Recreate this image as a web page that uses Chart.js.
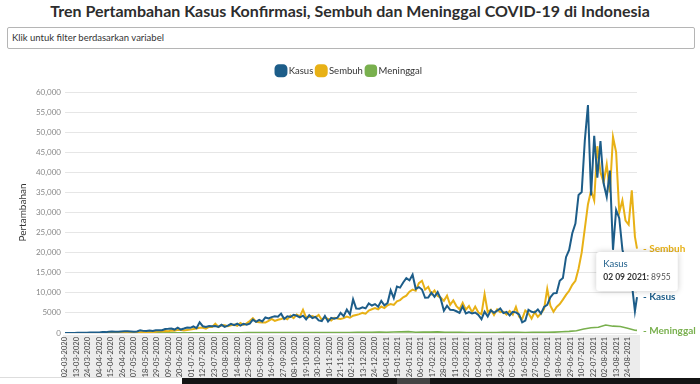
<!DOCTYPE html>
<html>
<head>
<meta charset="utf-8">
<script src="https://cdn.jsdelivr.net/npm/chart.js@4.4.0/dist/chart.umd.min.js"></script>
<style>
  body { margin:0; width:700px; height:384px; overflow:hidden; background:#fff; font-family:Lato, sans-serif; position:relative; }
  h1 { position:absolute; top:1px; left:0; width:700px; margin:0; text-align:center; font-size:16px; font-weight:bold; color:#2d2d2d; line-height:20px; }
  .filter { position:absolute; left:7px; top:27px; width:688px; height:22px; border:1px solid #b5b5b5; border-radius:2px; box-sizing:border-box; font-size:9.5px; color:#333; line-height:20px; padding-left:4px; }
  #wrap { position:absolute; left:0; top:61px; width:700px; height:323px; }
  .line { position:absolute; left:0; top:377px; width:182px; height:1px; background:#ddd; }
  .strip { position:absolute; left:182px; top:378px; width:518px; height:6px; background:#141414; }
  .patch { position:absolute; left:397px; top:378px; width:33px; height:6px; background:#444; }
</style>
</head>
<body>
<h1>Tren Pertambahan Kasus Konfirmasi, Sembuh dan Meninggal COVID-19 di Indonesia</h1>
<div class="filter">Klik untuk filter berdasarkan variabel</div>
<div id="wrap"><canvas id="covid"></canvas></div>
<div class="line"></div><div class="strip"></div><div class="patch"></div>
<script>
// Categories: one label per reported day (one day is missing in the source data)
var startDate = new Date(2020, 2, 2);
var endDate = new Date(2021, 8, 2);
var missingDate = '17-07-2021';
var tickEvery = 11;

// Series values (every 3rd day for Kasus/Sembuh, every 7th for Meninggal)
var kasusStep = 3;
var kasus = [
  2,2,2,15,35,38,60,64,103,130,
  149,106,247,219,316,380,327,283,396,415,
  433,395,338,387,689,529,486,634,479,687,
  700,684,993,1043,1111,857,1331,862,1113,1385,
  1293,1624,1209,2657,1681,1522,1752,1655,1761,1525,
  2040,1519,1815,2277,1942,2307,1821,2266,2037,2306,
  3308,2775,3269,2880,3861,3636,3963,4168,4071,4823,
  3509,4174,3992,4538,4294,3906,4301,3373,4432,3732,
  4029,3143,2973,4262,2853,3770,3535,3807,4998,4192,
  5828,4617,8369,6089,6058,6388,6120,7354,6848,7199,
  6528,8002,6877,7445,10617,8692,11557,11287,12568,13632,
  13094,14518,10994,11434,10827,8776,8844,10029,9039,10180,
  8493,5560,6808,5767,5748,5414,5008,6625,4852,5227,
  4889,5096,4484,3450,5325,4127,5656,5041,5549,6134,
  4952,5241,4369,5285,5143,4608,2633,3080,5797,5296,
  5138,5868,4824,6486,6993,8892,9868,9944,12990,13668,
  18872,20694,24836,27233,34379,35094,47899,56757,34257,49071,
  38679,47791,37284,33900,40427,20709,30625,28598,20813,17384,
  16744,12408,5436,8955
];

var sembuhStep = 3;
var sembuh = [
  0,0,0,3,5,5,3,10,11,15,
  22,26,45,55,52,52,50,55,136,97,
  130,141,143,140,180,250,185,250,235,285,
  500,390,514,440,600,550,770,740,620,730,
  840,1000,1100,1280,1320,1100,1500,1500,2300,1500,
  1900,1900,1700,1900,2100,1800,2500,2000,2400,3000,
  3700,2800,2700,2600,2600,3000,3500,3000,3300,3500,
  3800,3400,4300,3700,4600,4100,5800,3800,4000,4200,
  3900,4500,3300,3800,3500,3100,3800,3600,3500,3700,
  4100,3800,4300,4500,4700,5000,4800,5600,5900,6200,
  5900,6600,6200,6900,7200,7000,7900,8200,8900,9300,
  10300,10800,10500,12400,13000,10800,11500,9700,10600,9200,
  8800,8000,9300,7000,8100,6700,5900,7500,5800,6700,
  5200,6600,5100,4700,9700,5200,5800,4500,5900,5200,
  5300,4600,5500,4600,6500,4100,3500,5600,4900,3600,
  5200,4000,4900,6000,11000,6800,5300,6500,7200,8300,
  9500,10500,12000,13000,16000,20000,26000,32000,35500,33000,
  46500,40000,37500,42000,35000,48800,45000,30000,33000,28000,
  27000,35500,24000,21000
];

var meninggalStep = 7;
var meninggal = [
  0,0,1,10,15,20,40,25,20,20,
  20,30,25,40,40,50,45,60,60,70,
  80,60,70,75,80,85,100,100,115,130,
  110,110,100,110,95,90,90,100,120,130,
  170,150,180,210,190,250,290,340,200,230,
  220,270,180,170,150,130,140,120,100,120,
  150,160,170,130,170,170,180,230,300,400,
  550,1000,1300,1450,2000,1700,1600,1200,700,650
];

var yTicks = { min: 0, max: 60000, step: 5000 };

function pad(n) { return (n < 10 ? '0' : '') + n; }

var dateLabels = [];
for (var d = new Date(startDate); d <= endDate; d.setDate(d.getDate() + 1)) {
  var s = pad(d.getDate()) + '-' + pad(d.getMonth() + 1) + '-' + d.getFullYear();
  if (s !== missingDate) dateLabels.push(s);
}
var lastIdx = dateLabels.length - 1;

function toPoints(values, step) {
  return values.map(function (v, i) {
    return { x: dateLabels[Math.min(i * step, lastIdx)], y: v };
  });
}

Chart.defaults.font.family = 'Lato';

// gray band under the x labels
var labelBand = {
  id: 'labelBand',
  beforeDraw: function (chart) {
    var a = chart.chartArea, ctx = chart.ctx;
    ctx.save();
    ctx.fillStyle = '#ececec';
    ctx.fillRect(a.left - 2, a.bottom + 2, a.right - a.left + 5, chart.height - 6 - a.bottom - 2);
    ctx.restore();
  }
};

// extra room between legend and plot
var legendGap = {
  id: 'legendGap',
  beforeInit: function (chart) {
    var fit = chart.legend.fit;
    chart.legend.fit = function () {
      fit.bind(chart.legend)();
      this.height += 6.5;
    };
  }
};

// series names at the end of each line
var endLabels = {
  id: 'endLabels',
  afterDatasetsDraw: function (chart) {
    var ctx = chart.ctx;
    ctx.save();
    ctx.font = 'bold 10px Lato';
    ctx.textBaseline = 'middle';
    chart.data.datasets.forEach(function (ds, i) {
      var pts = chart.getDatasetMeta(i).data;
      var p = pts[pts.length - 1];
      ctx.fillStyle = ds.borderColor;
      ctx.fillText('- ' + ds.label, chart.chartArea.right + 6, p.y);
    });
    ctx.restore();
  }
};

// hover box on the last Kasus point
var lastTip = {
  id: 'lastTip',
  afterDraw: function (chart) {
    var ctx = chart.ctx;
    var ds = chart.data.datasets[0];
    var pts = chart.getDatasetMeta(0).data;
    var p = pts[pts.length - 1];
    var last = ds.data[ds.data.length - 1];
    var dateTxt = last.x.replace(/-/g, ' ') + ': ';
    var valTxt = String(last.y);
    ctx.save();
    ctx.font = 'bold 8.5px Lato';
    var w1 = ctx.measureText(dateTxt).width;
    ctx.font = '8.5px Lato';
    var w2 = ctx.measureText(valTxt).width;
    var w = w1 + w2 + 14, h = 39;
    var x = p.x - w / 2, y = p.y - 6 - h;
    ctx.shadowColor = 'rgba(0,0,0,0.22)';
    ctx.shadowBlur = 6;
    ctx.fillStyle = '#fff';
    ctx.beginPath();
    ctx.roundRect(x, y, w, h, 3);
    ctx.fill();
    ctx.shadowBlur = 0;
    ctx.shadowColor = 'transparent';
    ctx.textBaseline = 'middle';
    ctx.fillStyle = ds.borderColor;
    ctx.font = '9.5px Lato';
    ctx.fillText(ds.label, x + 7, y + 12);
    ctx.fillStyle = '#333';
    ctx.font = 'bold 8.5px Lato';
    ctx.fillText(dateTxt, x + 7, y + 25);
    ctx.font = '8.5px Lato';
    ctx.fillStyle = '#555';
    ctx.fillText(valTxt, x + 7 + w1, y + 25);
    ctx.restore();
  }
};

var ctx = document.getElementById('covid').getContext('2d');
var chart = new Chart(ctx, {
  type: 'line',
  data: {
    labels: dateLabels,
    datasets: [{
      label: 'Kasus',
      data: toPoints(kasus, kasusStep),
      borderColor: '#1d5d89',
      backgroundColor: '#1d5d89',
      borderWidth: 2
    }, {
      label: 'Sembuh',
      data: toPoints(sembuh, sembuhStep),
      borderColor: '#e8b116',
      backgroundColor: '#e8b116',
      borderWidth: 2
    }, {
      label: 'Meninggal',
      data: toPoints(meninggal, meninggalStep),
      borderColor: '#79b04e',
      backgroundColor: '#79b04e',
      borderWidth: 1.6
    }]
  },
  options: {
    responsive: true,
    maintainAspectRatio: false,
    animation: false,
    events: [],
    elements: { point: { radius: 0 }, line: { tension: 0 } },
    layout: { padding: { left: 0, right: 0, top: 0, bottom: 0 } },
    plugins: {
      tooltip: { enabled: false },
      legend: {
        position: 'top',
        labels: {
          usePointStyle: true,
          pointStyle: 'rectRounded',
          boxWidth: 6,
          boxHeight: 9,
          padding: 5,
          color: '#333',
          font: { size: 9.5 }
        }
      }
    },
    scales: {
      x: {
        type: 'category',
        grid: { display: false, drawTicks: false },
        border: { display: false },
        ticks: {
          autoSkip: false,
          minRotation: 90,
          maxRotation: 90,
          padding: 4,
          color: '#444',
          font: { size: 7.5 },
          callback: function (val, idx) {
            return idx % tickEvery === 0 ? dateLabels[idx] : '';
          }
        },
        afterFit: function (scale) { scale.height = 51; }
      },
      y: {
        min: yTicks.min,
        max: yTicks.max,
        grid: { color: '#e6e6e6', drawTicks: false },
        border: { display: false },
        ticks: {
          stepSize: yTicks.step,
          padding: 4,
          color: '#888',
          font: { size: 8 },
          callback: function (v) { return v >= 10000 ? v.toLocaleString('en-US') : String(v); }
        },
        title: {
          display: true,
          text: 'Pertambahan',
          color: '#333',
          font: { size: 10 },
          padding: { top: 17, bottom: 0 }
        },
        afterFit: function (scale) { scale.width = 65; }
      },
      yRight: {
        type: 'linear',
        position: 'right',
        grid: { display: false, drawTicks: false },
        border: { display: false },
        ticks: { display: false },
        afterFit: function (scale) { scale.width = 63; }
      }
    }
  },
  plugins: [labelBand, legendGap, endLabels, lastTip]
});
</script>
</body>
</html>
